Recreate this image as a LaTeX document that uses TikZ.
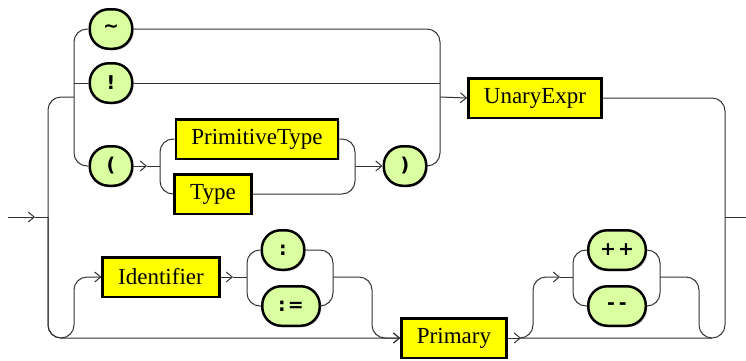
\documentclass[tikz,border=0pt]{standalone}
\usepackage{fontspec}
\setmainfont{Liberation Serif}
\newfontfamily\termfont{DejaVu Sans}
\usepackage{tikz}
\usetikzlibrary{
  arrows.meta,
  positioning,
  shadows
}
\definecolor{rrgreen}{HTML}{D9FFA0}
\definecolor{rryellow}{HTML}{FFFF00}
\definecolor{rrline}{HTML}{333333}

\begin{document}
\begin{tikzpicture}[
  x=1pt, y=-1pt,
  terminal/.style={
    rectangle, rounded corners=19pt, draw=black, line width=2.5pt,
    fill=rrgreen, minimum width=42.5pt, minimum height=39.5pt,
    inner xsep=11pt, font=\termfont\bfseries\fontsize{19}{22}\selectfont,
    drop shadow={shadow xshift=1.5pt, shadow yshift=-1.5pt, opacity=.35}
  },
  nonterminal/.style={
    rectangle, draw=black, line width=2.5pt, fill=rryellow,
    minimum height=39.5pt, inner xsep=15.5pt,
    font=\fontsize{23}{27}\selectfont,
    drop shadow={shadow xshift=1.5pt, shadow yshift=-1.5pt, opacity=.35}
  },
  rail/.style={draw=rrline, line width=1pt, rounded corners=13pt},
  into/.style={-{Straight Barb[length=6pt, width=10pt]}}
]
\useasboundingbox (0,0) rectangle (746,360);

% unary operators and the cast
\node[terminal] (tilde) at (111,29) {\textasciitilde};
\node[terminal] (bang) at (111,83) {!};
\node[terminal] (lparen) at (111,166) {(};
\node[nonterminal] (primtype) at (257,139) {PrimitiveType};
\node[nonterminal] (type) at (213,194) {Type};
\node[terminal] (rparen) at (405,166) {)};
\node[nonterminal] (unary) at (535,98) {UnaryExpr};

% primary with optional label and postfix
\node[nonterminal] (ident) at (161,277) {Identifier};
\node[terminal] (colon) at (283,250) {:};
\node[terminal, minimum width=57.5pt] (assign) at (291,306) {:\kern2pt=};
\node[nonterminal] (primary) at (454,338) {Primary};
\node[terminal, minimum width=57.5pt] (incr) at (617,250) {+\kern2pt+};
\node[terminal, minimum width=57.5pt] (decr) at (617,306) {-\kern4pt-};

% junctions
\coordinate (start) at (8,217);
\coordinate (entry) at (35,217);
\coordinate (split) at (48,217);
\coordinate (opsin) at (74,97);
\coordinate (opsout) at (440,97);
\coordinate (castarrow) at (147,166);
\coordinate (castin) at (160,166);
\coordinate (castout) at (355,166);
\coordinate (labelfoot) at (74,338);
\coordinate (identarrow) at (233,277);
\coordinate (labelin) at (247,277);
\coordinate (labelout) at (333,277);
\coordinate (labeldrop) at (372,338);
\coordinate (postarrow) at (521,338);
\coordinate (postbend) at (533,277);
\coordinate (incrarrow) at (560,277);
\coordinate (postin) at (573,277);
\coordinate (postout) at (660,277);
\coordinate (postdrop) at (699,338);
\coordinate (postjoin) at (712,338);
\coordinate (backup) at (725,338);
\coordinate (exit) at (725,217);
\coordinate (finish) at (746,217);

\draw[rail, into] (start) -- (entry);
\draw[rail] (entry) -- (split);

% top branch
\draw[rail] (split) |- (opsin);
\draw[rail] (tilde.west) -| (lparen.west -| opsin) -- (lparen.west);
\draw[rail] (bang.west -| opsin) -- (bang.west);
\draw[rail] (tilde.east) -| (rparen.east -| opsout) -- (rparen.east);
\draw[rail] (bang.east) -- (bang.east -| opsout);
\draw[rail, into] (opsout) -- (unary.west);

\draw[rail, into] (lparen.east) -- (castarrow);
\draw[rail] (castarrow) -- (castin);
\draw[rail] (primtype.west) -| (type.west -| castin) -- (type.west);
\draw[rail] (primtype.east) -| (type.east -| castout) -- (type.east);
\draw[rail, into] (castout) -- (rparen.west);

% bottom branch
\draw[rail, into] (split) |- (primary.west);
\draw[rail, into] (split) |- (labelfoot) |- (ident.west);
\draw[rail, into] (ident.east) -- (identarrow);
\draw[rail] (identarrow) -- (labelin);
\draw[rail] (colon.west) -| (assign.west -| labelin) -- (assign.west);
\draw[rail] (colon.east) -| (assign.east -| labelout) -- (assign.east);
\draw[rail, into] (labelout) -| (labeldrop) -- (primary.west);

\draw[rail, into] (primary.east) -- (postarrow);
\draw[rail, into] (postarrow) -| (postbend) -- (incrarrow);
\draw[rail] (incrarrow) -- (postin);
\draw[rail] (incr.west) -| (decr.west -| postin) -- (decr.west);
\draw[rail] (incr.east) -| (decr.east -| postout) -- (decr.east);
\draw[rail] (postout) -| (postdrop) -- (postjoin);
\draw[rail] (postarrow) -- (backup) |- (unary.east);
\draw[rail] (exit) -- (finish);

\end{tikzpicture}
\end{document}
